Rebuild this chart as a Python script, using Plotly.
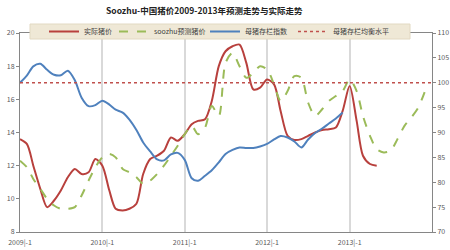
import pandas as pd
import plotly.graph_objects as go

# ---- data (monthly, starting 2009-01) ----
actual_price = [13.6, 13.3, 12.0, 10.6, 9.5, 9.9, 10.5, 11.3, 11.8, 11.5, 11.6, 12.4,
                12.0, 10.5, 9.4, 9.3, 9.4, 9.7, 11.5, 12.4, 12.6, 12.9, 13.7, 13.5,
                13.9, 14.5, 14.7, 14.8, 15.9, 18.0, 18.9, 19.2, 19.3, 18.2, 16.6, 16.7,
                17.2, 16.9, 15.3, 13.8, 13.55, 13.6, 13.8, 14.0, 14.15, 14.2, 14.3, 15.3,
                16.8, 14.7, 12.6, 12.1, 12.0]
forecast_price = [12.3, 11.9, 11.2, 10.6, 10.0, 9.6, 9.4, 9.4, 9.5, 10.2, 11.1, 11.9,
                  12.5, 12.7, 12.5, 11.8, 11.6, 11.3, 10.9, 11.1, 11.5, 12.0, 12.6, 13.2,
                  13.9, 14.4, 13.9, 14.3, 15.6, 15.0, 18.2, 18.8, 18.0, 17.3, 17.6, 18.0,
                  17.8, 16.9, 15.9, 16.5, 17.4, 17.3, 15.8, 15.0, 15.4, 15.9, 16.2, 16.5,
                  17.2, 16.5, 15.0, 13.8, 13.0, 12.8, 12.9, 13.6, 14.4, 14.9, 15.5, 16.5]
sow_index = [100.0, 101.5, 103.3, 103.8, 102.6, 101.6, 101.5, 102.4, 100.5, 97.0, 95.3, 95.5,
             96.4, 95.6, 94.6, 94.0, 92.6, 90.5, 88.0, 86.2, 84.6, 84.4, 85.6, 85.9,
             84.5, 80.8, 80.3, 81.3, 82.4, 84.0, 85.7, 86.5, 87.0, 86.9, 86.9, 87.2,
             87.7, 88.6, 89.3, 89.0, 88.2, 87.0, 88.6, 89.9, 90.8, 91.8, 92.8, 94.0]
equilibrium_level = 100
equilibrium_span = ["2009-01-01", "2014-01-01"]

tick_dates = ["2009-01-01", "2010-01-01", "2011-01-01", "2012-01-01", "2013-01-01"]
tick_labels = ["2009|-1", "2010|-1", "2011|-1", "2012|-1", "2013|-1"]

series_names = ["实际猪价", "soozhu预测猪价", "母猪存栏指数", "母猪存栏均衡水平"]
title_text = "Soozhu-中国猪价2009-2013年预测走势与实际走势"

months = pd.date_range("2009-01-01", periods=60, freq="MS")

FONT = "Noto Sans CJK SC, Noto Sans, sans-serif"
RED = "#B8403D"
GREEN = "#9BBB59"
BLUE = "#4F81BD"

W, H = 450, 250
L, R, T, B = 20, 18, 33, 18
pw, ph = W - L - R, H - T - B

def px_x(x):
    return (x - L) / pw

def px_y(y):
    return (H - B - y) / ph

fig = go.Figure()
fig.add_trace(go.Scatter(x=months[:len(actual_price)], y=actual_price, name=series_names[0],
                         legend="legend",
                         mode="lines", line=dict(color=RED, width=2, shape="spline", smoothing=0.8)))
fig.add_trace(go.Scatter(x=months[:len(forecast_price)], y=forecast_price, name=series_names[1],
                         legend="legend2",
                         mode="lines", line=dict(color=GREEN, width=2, dash="dash", shape="spline", smoothing=0.8)))
fig.add_trace(go.Scatter(x=months[:len(sow_index)], y=sow_index, name=series_names[2], yaxis="y2",
                         legend="legend3",
                         mode="lines", line=dict(color=BLUE, width=2, shape="spline", smoothing=0.8)))
fig.add_trace(go.Scatter(x=equilibrium_span, y=[equilibrium_level] * len(equilibrium_span),
                         name=series_names[3], yaxis="y2", legend="legend4",
                         mode="lines", line=dict(color="#C0504D", width=1.5, dash="dot")))

def leg(xpx):
    return dict(orientation="h", x=px_x(xpx), y=px_y(17), xanchor="left", yanchor="top",
                bgcolor="rgba(0,0,0,0)", font=dict(size=7, color="#404040", family=FONT),
                itemwidth=30)

fig.update_layout(
    width=W, height=H,
    margin=dict(l=L, r=R, t=T, b=B, autoexpand=False),
    paper_bgcolor="white", plot_bgcolor="white",
    font=dict(family=FONT, size=7, color="#595959"),
    showlegend=True,
    legend=leg(44), legend2=leg(114), legend3=leg(205), legend4=leg(293),
    xaxis=dict(type="date", range=["2009-01-01", "2014-01-01"], automargin=False,
               tickvals=tick_dates, ticktext=tick_labels, tickfont=dict(size=7, color="#595959"),
               showgrid=True, gridcolor="#D9D9D9", gridwidth=1.5,
               showline=True, linecolor="#868686", linewidth=1, mirror=True,
               ticks="outside", ticklen=4, tickcolor="rgba(0,0,0,0)", zeroline=False),
    yaxis=dict(range=[8, 20], dtick=2, tickfont=dict(size=7, color="#595959"), automargin=False,
               showgrid=False, showline=True, linecolor="#868686", linewidth=1,
               ticks="outside", ticklen=3, tickcolor="#868686", zeroline=False),
    yaxis2=dict(range=[70, 110], dtick=5, overlaying="y", side="right", automargin=False,
                tickfont=dict(size=7, color="#595959"),
                showgrid=False, showline=True, linecolor="#868686", linewidth=1,
                ticks="outside", ticklen=3, tickcolor="#868686", zeroline=False),
    shapes=[dict(type="rect", xref="paper", yref="paper",
                 x0=px_x(30), x1=px_x(410), y0=px_y(39), y1=px_y(24),
                 fillcolor="#EFE8D6", line=dict(color="#E2D9C2", width=1), layer="above")],
    annotations=[dict(text=f"<b>{title_text}</b>", xref="paper", yref="paper",
                      x=px_x(204), y=px_y(10), xanchor="center", yanchor="middle",
                      showarrow=False, font=dict(size=8.5, color="#222222", family=FONT))],
)

fig.write_html("out.html")
